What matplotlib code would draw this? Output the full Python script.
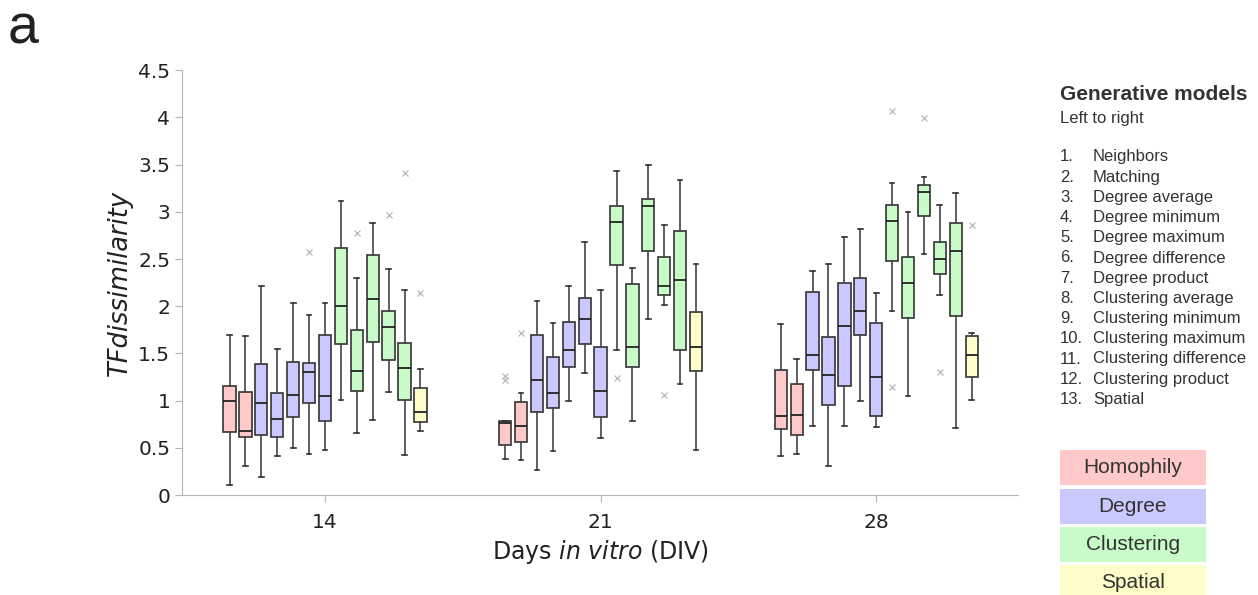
import matplotlib.pyplot as plt
from matplotlib.patches import Rectangle

# days and models
days = [14, 21, 28]
models = ["Neighbors", "Matching", "Degree average", "Degree minimum",
          "Degree maximum", "Degree difference", "Degree product",
          "Clustering average", "Clustering minimum", "Clustering maximum",
          "Clustering difference", "Clustering product", "Spatial"]
model_group = [0, 0, 1, 1, 1, 1, 1, 2, 2, 2, 2, 2, 3]
groups = ["Homophily", "Degree", "Clustering", "Spatial"]
group_colors = ["#ffc9c9", "#c9c9ff", "#c9fbc9", "#fdfdc9"]

# box statistics (one row per DIV)
whislo = [
    [0.11, 0.31, 0.19, 0.41, 0.50, 0.43, 0.48, 1.01, 0.66, 0.79, 1.09, 0.42, 0.68],
    [0.38, 0.37, 0.27, 0.47, 1.00, 1.29, 0.60, 1.54, 0.78, 1.86, 2.01, 1.18, 0.48],
    [0.41, 0.43, 0.73, 0.31, 0.73, 1.00, 0.72, 1.95, 1.05, 2.55, 2.12, 0.71, 1.01],
]
q1 = [
    [0.67, 0.61, 0.64, 0.62, 0.83, 0.97, 0.78, 1.60, 1.10, 1.62, 1.43, 1.01, 0.77],
    [0.53, 0.56, 0.88, 0.92, 1.36, 1.60, 0.83, 2.44, 1.36, 2.59, 2.12, 1.54, 1.31],
    [0.70, 0.64, 1.32, 0.95, 1.16, 1.70, 0.84, 2.48, 1.88, 2.96, 2.34, 1.90, 1.25],
]
med = [
    [1.00, 0.68, 0.97, 0.81, 1.06, 1.30, 1.05, 2.00, 1.31, 2.08, 1.78, 1.35, 0.88],
    [0.76, 0.73, 1.22, 1.08, 1.54, 1.86, 1.10, 2.89, 1.57, 3.06, 2.21, 2.28, 1.57],
    [0.84, 0.85, 1.48, 1.27, 1.79, 1.95, 1.25, 2.90, 2.25, 3.21, 2.50, 2.59, 1.48],
]
q3 = [
    [1.15, 1.09, 1.39, 1.08, 1.41, 1.40, 1.69, 2.62, 1.75, 2.54, 1.95, 1.61, 1.13],
    [0.78, 0.99, 1.69, 1.46, 1.83, 2.09, 1.57, 3.06, 2.24, 3.14, 2.52, 2.80, 1.94],
    [1.32, 1.18, 2.15, 1.67, 2.25, 2.30, 1.82, 3.07, 2.52, 3.28, 2.68, 2.88, 1.68],
]
whishi = [
    [1.70, 1.68, 2.21, 1.55, 2.03, 1.91, 2.03, 3.11, 2.30, 2.88, 2.39, 2.17, 1.33],
    [0.78, 1.08, 2.06, 1.82, 2.21, 2.68, 2.17, 3.43, 2.40, 3.50, 2.86, 3.34, 2.45],
    [1.81, 1.44, 2.37, 2.45, 2.73, 2.82, 2.14, 3.31, 3.00, 3.37, 3.07, 3.20, 1.72],
]
# outliers: (day index, model index, value)
outliers = [
    (0, 5, 2.57), (0, 8, 2.78), (0, 10, 2.97), (0, 11, 3.41), (0, 12, 2.14),
    (1, 0, 1.22), (1, 0, 1.26), (1, 1, 1.72), (1, 7, 1.24), (1, 10, 1.06),
    (2, 7, 4.07), (2, 7, 1.14), (2, 9, 3.99), (2, 10, 1.30), (2, 12, 2.86),
]

step = 0.404
fig = plt.figure(figsize=(12.58, 5.95), dpi=100)
ax = fig.add_axes([0.1447, 0.168, 0.6645, 0.714])

for d, day in enumerate(days):
    stats, pos, colors = [], [], []
    for i in range(len(models)):
        fl = [v for (dd, mm, v) in outliers if dd == d and mm == i]
        stats.append(dict(whislo=whislo[d][i], q1=q1[d][i], med=med[d][i],
                          q3=q3[d][i], whishi=whishi[d][i], fliers=fl))
        pos.append(day + (i - 6) * step)
        colors.append(group_colors[model_group[i]])
    bp = ax.bxp(stats, positions=pos, widths=0.31, patch_artist=True,
                boxprops=dict(edgecolor="#333333", linewidth=1.2),
                medianprops=dict(color="#222222", linewidth=1.3),
                whiskerprops=dict(color="#444444", linewidth=1.2),
                capprops=dict(color="#333333", linewidth=1.2),
                flierprops=dict(marker="x", markeredgecolor="#b0b0b0",
                                markersize=4, markeredgewidth=0.8),
                capwidths=0.12, manage_ticks=False)
    for box, c in zip(bp["boxes"], colors):
        box.set_facecolor(c)

ax.set_xlim(10.37, 31.6)
ax.set_ylim(0, 4.5)
ax.set_xticks(days)
ax.set_xticklabels([str(d) for d in days])
ax.set_yticks([0, 0.5, 1, 1.5, 2, 2.5, 3, 3.5, 4, 4.5])
ax.set_yticklabels(["0", "0.5", "1", "1.5", "2", "2.5", "3", "3.5", "4", "4.5"])
for s in ["top", "right"]:
    ax.spines[s].set_visible(False)
for s in ["left", "bottom"]:
    ax.spines[s].set_color("#b5b5b5")
ax.tick_params(colors="#b5b5b5", labelcolor="#222222", labelsize=14.5, length=5)
ax.tick_params(axis="x", pad=8)

ax.set_ylabel("TFdissimilarity", fontsize=18.5, style="italic", color="#222222", labelpad=4)
ax.set_xlabel(r"Days $\mathit{in\ vitro}$ (DIV)", fontsize=17, color="#222222", labelpad=4)

fig.text(8 / 1258, 1 - 44 / 595, "a", fontsize=40, color="#222222", va="baseline",
         fontfamily="Liberation Sans")

# right-hand legend
fig.text(1060 / 1258, 1 - 95 / 595, "Generative models", fontsize=15, fontweight="bold",
         color="#333333", va="center", fontfamily="Liberation Sans")
fig.text(1060 / 1258, 1 - 118 / 595, "Left to right", fontsize=12,
         color="#333333", va="center", fontfamily="Liberation Sans")
for i, name in enumerate(models):
    y = 1 - (157 + i * 20.2) / 595
    fig.text(1060 / 1258, y, f"{i + 1}.", fontsize=12, color="#333333", va="center",
             fontfamily="Liberation Sans")
    fig.text(1093 / 1258, y, name, fontsize=12, color="#333333", va="center",
             fontfamily="Liberation Sans")

box_tops = [450, 489, 527, 565]
for g, top in zip(groups, box_tops):
    y0 = 1 - (top + 35) / 595
    fig.add_artist(Rectangle((1060 / 1258, y0), 146 / 1258, 35 / 595,
                             transform=fig.transFigure, facecolor=group_colors[groups.index(g)],
                             edgecolor="none"))
    fig.text(1133 / 1258, y0 + 17.5 / 595, g, fontsize=15, color="#333333",
             ha="center", va="center", fontfamily="Liberation Sans")

fig.savefig("out.png", dpi=100)
